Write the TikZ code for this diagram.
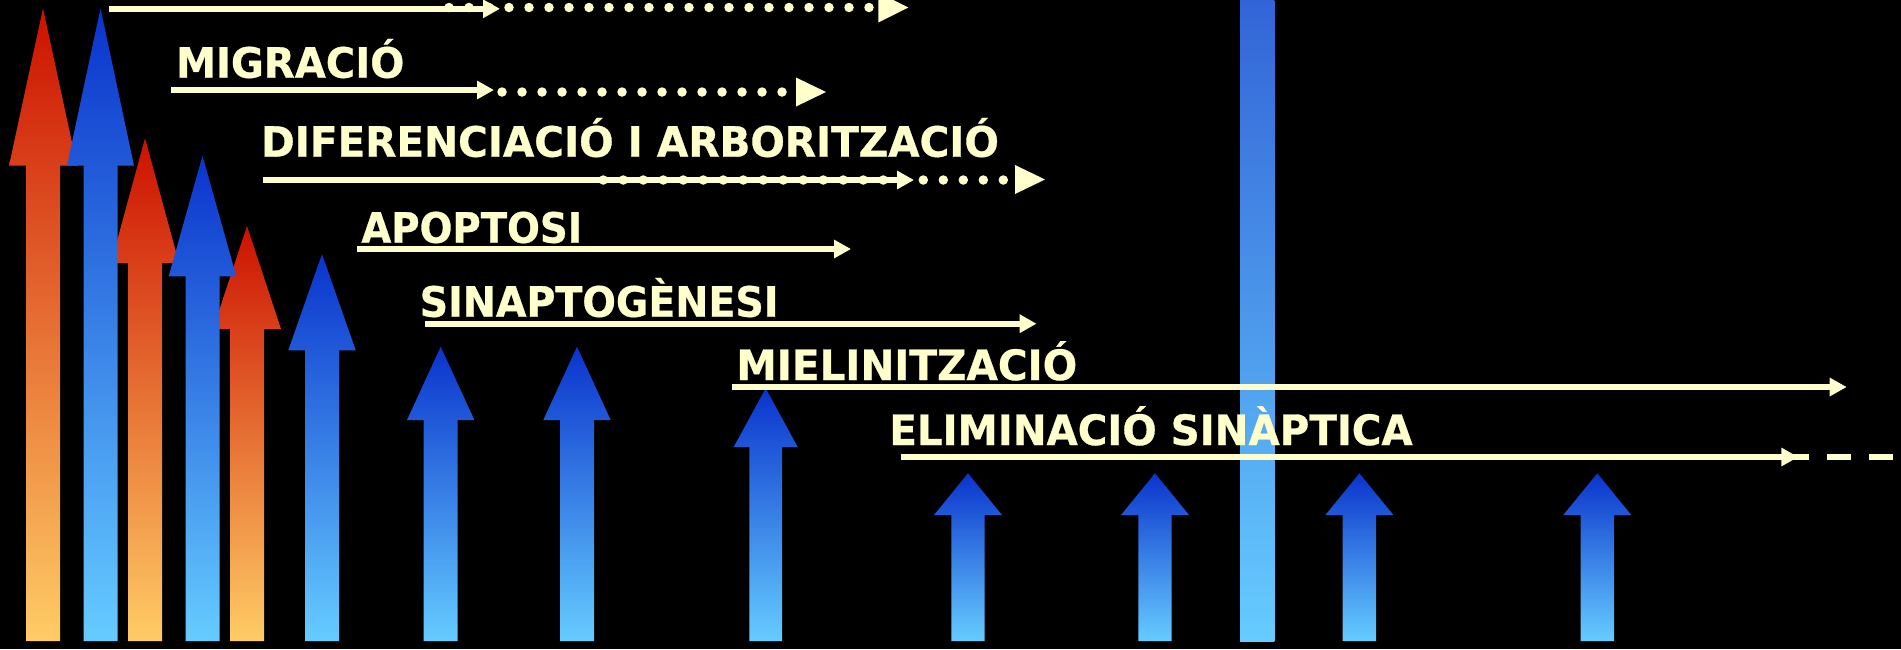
\documentclass[tikz,border=0pt]{standalone}
\usepackage{fontspec}
\setmainfont{DejaVu Sans}
\newfontfamily\lblfont[BoldFeatures={FakeBold=0.8}]{DejaVu Sans}
\usetikzlibrary{arrows.meta}
\definecolor{cream}{HTML}{FFFFCC}
\definecolor{rtop}{HTML}{CC1100}
\definecolor{rmid}{HTML}{E69550}
\definecolor{rbot}{HTML}{FFCC66}
\definecolor{btop}{HTML}{0A33CC}
\definecolor{bmid}{HTML}{4A94E4}
\definecolor{bbot}{HTML}{66CCFF}
\definecolor{bartop}{HTML}{3264D7}
\newcommand{\uparr}[5]{({#1-#5},641) -- ({#1-#5},#3) -- ({#1-#4},#3) -- (#1,#2) -- ({#1+#4},#3) -- ({#1+#5},#3) -- ({#1+#5},641) -- cycle}
\begin{document}
\begin{tikzpicture}[x=0.5pt,y=-0.5pt,
  redarr/.style={top color=rtop, middle color=rmid, bottom color=rbot},
  bluearr/.style={top color=btop, middle color=bmid, bottom color=bbot},
  tl/.style={draw=cream, line width=2.85pt, -{Triangle[length=8.5pt,width=8.8pt]}},
  dot/.style={fill=cream},
  lbl/.style={text=cream, inner sep=0pt, anchor=base west, font=\lblfont\fontsize{20.9pt}{24pt}\selectfont\bfseries}]
\fill[black] (0,0) rectangle (1901,649);
\useasboundingbox (0,0) rectangle (1901,649);
% red arrows
\shade[redarr] \uparr{43}{8.3}{165.7}{34}{17};
\shade[redarr] \uparr{145}{138.3}{263}{34}{17};
\shade[redarr] \uparr{247}{226}{329}{34}{17};
% blue arrows
\shade[bluearr] \uparr{100.5}{8.3}{165.7}{33.5}{17};
\shade[bluearr] \uparr{202.5}{155.7}{276.3}{33.8}{17};
\shade[bluearr] \uparr{322}{254}{350.3}{33.7}{17};
\shade[bluearr] \uparr{440.7}{346.7}{420}{33.7}{17};
\shade[bluearr] \uparr{577}{346.7}{420}{33.7}{17};
\shade[bluearr] \uparr{765.7}{388.3}{447}{32}{16.4};
\shade[bluearr] \uparr{968}{473.3}{515}{34}{16.7};
\shade[bluearr] \uparr{1155}{473.3}{515}{34}{16.7};
\shade[bluearr] \uparr{1359.4}{473.3}{515}{34}{16.7};
\shade[bluearr] \uparr{1597.3}{473.3}{515}{34}{16.7};
% tall bar
\shade[top color=bartop, bottom color=bbot] (1240,0) rectangle (1274.3,641);
% row 1
\foreach \i in {0,...,21} \fill[dot] ({449+20*\i},7.5) circle[radius=4.75];
\fill[cream] (878.3,-7.5) -- (908.3,7.5) -- (878.3,22.5) -- cycle;
\coordinate (a0) at (109,8.8);
\coordinate (a1) at (500,8.8);
\draw[tl] (a0) -- (a1);
% row 2
\node[lbl] (migr) at (175.7,77.7) {\scalebox{0.96}[1]{MIGRACIÓ}};
\foreach \i in {0,...,14} \fill[dot] ({502+20*\i},92) circle[radius=4.75];
\fill[cream] (796,77.5) -- (826,92) -- (796,106.5) -- cycle;
\coordinate (b0) at (171,90);
\coordinate (b1) at (494,90);
\draw[tl] (b0) -- (b1);
% row 3
\node[lbl] (dife) at (260.7,156.7) {\scalebox{0.97}[1]{DIFERENCIACIÓ I ARBORITZACIÓ}};
\foreach \i in {0,...,20} \fill[dot] ({603.3+20*\i},180) circle[radius=4.75];
\fill[cream] (1015,165) -- (1045,179.5) -- (1015,194) -- cycle;
\coordinate (c0) at (263.3,180);
\coordinate (c1) at (914,180);
\draw[tl] (c0) -- (c1);
% row 4
\node[lbl] (apop) at (361,242.7) {\scalebox{0.924}[1]{APOPTOSI}};
\coordinate (d0) at (357.3,249);
\coordinate (d1) at (851,249);
\draw[tl] (d0) -- (d1);
% row 5
\node[lbl] (sina) at (419.3,316.7) {\scalebox{0.945}[1]{SINAPTOGÈNESI}};
\coordinate (e0) at (425.3,323.7);
\coordinate (e1) at (1036.6,323.7);
\draw[tl] (e0) -- (e1);
% row 6
\node[lbl] (miel) at (736,380) {\scalebox{0.97}[1]{MIELINITZACIÓ}};
\coordinate (f0) at (732.3,387);
\coordinate (f1) at (1846.7,387);
\draw[tl] (f0) -- (f1);
% row 7
\node[lbl] (elim) at (889,445) {\scalebox{0.965}[1]{ELIMINACIÓ SINÀPTICA}};
\coordinate (g0) at (900.7,457);
\coordinate (g1) at (1798.3,457);
\coordinate (g2) at (1785,457);
\coordinate (g3) at (1893,457);
\draw[cream, line width=2.85pt, dash pattern=on 12pt off 9pt] (g2) -- (g3);
\draw[tl] (g0) -- (g1);
\end{tikzpicture}
\end{document}
